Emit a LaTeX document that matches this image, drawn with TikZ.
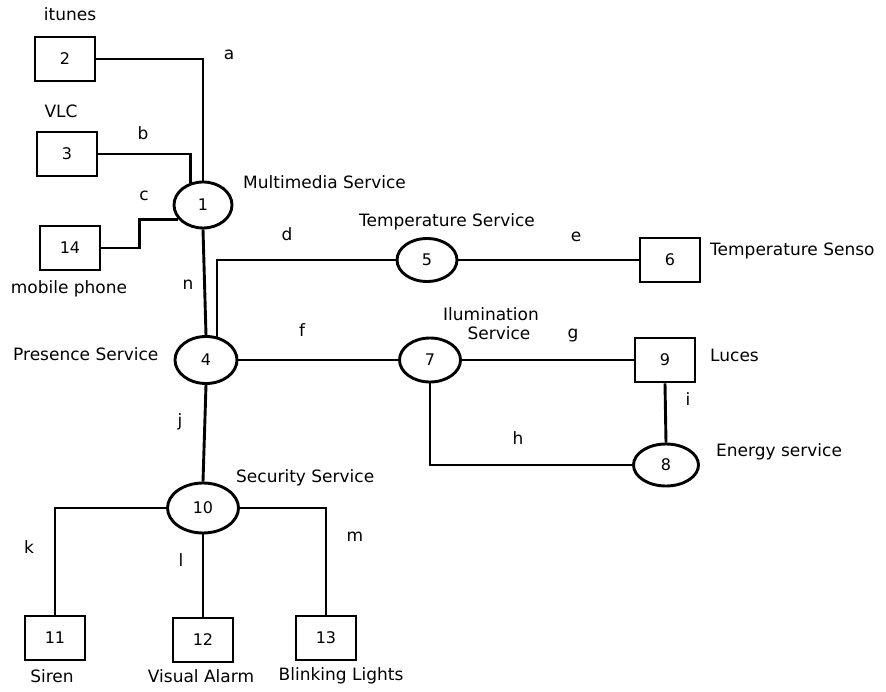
\documentclass[tikz,border=0pt]{standalone}
\usepackage{fontspec}
\setmainfont{DejaVu Sans}
\usetikzlibrary{shapes.geometric,calc}

\tikzset{
  box/.style={draw, line width=2.9pt, rectangle, inner sep=0pt,
              minimum width=60pt, minimum height=44pt,
              font=\fontsize{16}{18}\selectfont},
  svc/.style={draw, line width=2.9pt, ellipse, inner sep=0pt,
              font=\fontsize{16}{18}\selectfont},
  link/.style={line width=2.9pt, line join=miter},
  lbl/.style={inner sep=0pt, font=\fontsize{17}{20}\selectfont,
              text height=0.76em, text depth=0.24em},
  tag/.style={lbl}
}

\begin{document}
\begin{tikzpicture}[x=1pt, y=-1pt]
  \useasboundingbox (0,0) rectangle (886,692);
  \fill[white] (0,0) rectangle (886,692);

  % service nodes
  \node[svc, minimum width=58pt, minimum height=46pt] (n1)  at (203,205) {1};
  \node[svc, minimum width=62pt, minimum height=47pt] (n4)  at (206,360) {4};
  \node[svc, minimum width=60pt, minimum height=43pt] (n5)  at (427,260) {5};
  \node[svc, minimum width=61pt, minimum height=44pt] (n7)  at (430,360) {7};
  \node[svc, minimum width=65pt, minimum height=42pt] (n8)  at (666,465) {8};
  \node[svc, minimum width=71pt, minimum height=50pt] (n10) at (203,508) {10};

  % device nodes
  \node[box] (n2)  at (65,59)   {2};
  \node[box] (n3)  at (67,154)  {3};
  \node[box] (n14) at (70,248)  {14};
  \node[box] (n6)  at (670,260) {6};
  \node[box] (n9)  at (665,360) {9};
  \node[box] (n11) at (55,638)  {11};
  \node[box] (n12) at (203,640) {12};
  \node[box] (n13) at (326,638) {13};

  % connectors
  \draw[link] (n2.east) -| (n1.north);
  \draw[link] (n3.east) -| (n1.120);
  \draw[link] (n14.east) -- ++(38,0) coordinate (cbend) |- (n1.210);
  \draw[link] (n1.south) -- (n4.north);
  \draw[link] (n4.65) |- (n5.west);
  \draw[link] (n5.east) -- (n6.west);
  \draw[link] (n4.east) -- (n7.west);
  \draw[link] (n7.east) -- (n9.west);
  \draw[link] (n9.south) -- (n8.north);
  \draw[link] (n7.south) |- (n8.west);
  \draw[link] (n4.south) -- (n10.north);
  \draw[link] (n10.west) -| (n11.north);
  \draw[link] (n10.south) -- (n12.north);
  \draw[link] (n10.east) -| (n13.north);

  % connector letters
  \node[tag] (ta) at (229,57)  {a};
  \node[tag] (tb) at (143,137) {b};
  \node[tag] (tc) at (144,198) {c};
  \node[tag] (td) at (287,238) {d};
  \node[tag] (tn) at (188,287) {n};
  \node[tag] (te) at (576,239) {e};
  \node[tag] (tf) at (302,334) {f};
  \node[tag] (tg) at (573,336) {g};
  \node[tag] (th) at (518,442) {h};
  \node[tag] (ti) at (688,403) {i};
  \node[tag] (tj) at (180,424) {j};
  \node[tag] (tk) at (29,551)  {k};
  \node[tag] (tl) at (181,564) {l};
  \node[tag] (tm) at (355,539) {m};

  % names
  \node[lbl] (litunes) at (70,18)   {itunes};
  \node[lbl] (lvlc)    at (61,115)  {VLC};
  \node[lbl] (lmobile) at (69,291)  {mobile phone};
  \node[lbl, anchor=west] (lmulti) at (243,186) {Multimedia Service};
  \node[lbl] (ltemp)   at (447,224) {Temperature Service};
  \node[lbl, anchor=west] (lsensor) at (710,253) {Temperature Senso};
  \node[lbl, anchor=west] (lpres) at (13,358) {Presence Service};
  \node[lbl] (lilum1)  at (491,318) {Ilumination};
  \node[lbl] (lilum2)  at (499,337) {Service};
  \node[lbl, anchor=west] (lluces) at (710,359) {Luces};
  \node[lbl, anchor=west] (lenergy) at (716,454) {Energy service};
  \node[lbl, anchor=west] (lsec) at (236,480) {Security Service};
  \node[lbl] (lsiren)  at (52,680)  {Siren};
  \node[lbl] (lvisual) at (201,680) {Visual Alarm};
  \node[lbl] (lblink)  at (341,678) {Blinking Lights};
\end{tikzpicture}
\end{document}
